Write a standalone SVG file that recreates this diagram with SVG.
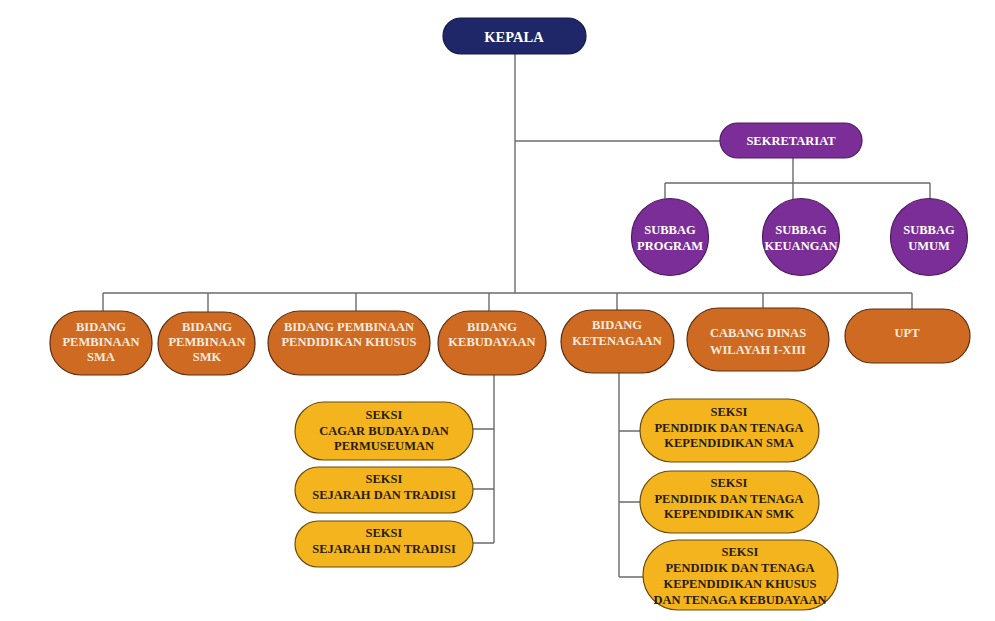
<svg xmlns="http://www.w3.org/2000/svg" width="995" height="621" viewBox="0 0 995 621">
<style>
text{font-family:"Liberation Serif","Times New Roman",serif;font-weight:bold;text-anchor:middle}
.lk{fill:none;stroke:#6b6b6b;stroke-width:1.4}
.nv{fill:#1f2768;stroke:#141a48;stroke-width:1.2}
.pu{fill:#7b2e98;stroke:#4e1c63;stroke-width:1.2}
.or{fill:#cf6a23;stroke:#5a2f12;stroke-width:1.2}
.ye{fill:#f3b41e;stroke:#6a4a10;stroke-width:1.2}
.tw{fill:#ffffff;font-size:12.5px}
.tb{fill:#f6eadf;font-size:12.5px}
.td{fill:#2a1c0c;font-size:12.5px}
</style>
<rect width="995" height="621" fill="#ffffff"/>
<g id="connectors">
<path class="lk" d="M515 54V293"/>
<path class="lk" d="M515 141H720"/>
<path class="lk" d="M793 158V183M665 183H930M665 183V199M793 183V199M930 183V199"/>
<path class="lk" d="M103 293H912M103 293V311M208 293V312M356 293V311M489 293V311M617 293V310M763 293V308M912 293V309"/>
<path class="lk" d="M494 375V543M473 429H494M473 489H494M473 543H494"/>
<path class="lk" d="M619 373V577M619 431H640M619 502H640M619 577H643"/>
</g>
<g id="kepala"><rect class="nv" x="443" y="18" width="143" height="36" rx="18"/><text class="tw" x="514" y="42" style="font-size:14.5px">KEPALA</text></g>
<g id="sekretariat"><rect class="pu" x="720" y="123" width="142" height="35" rx="17.5"/><text class="tw" x="791" y="145">SEKRETARIAT</text></g>
<g id="subbag-program"><circle class="pu" cx="670" cy="237" r="38.5"/><text class="tw" x="670" y="234">SUBBAG</text><text class="tw" x="670" y="250">PROGRAM</text></g>
<g id="subbag-keuangan"><circle class="pu" cx="801" cy="237" r="38.5"/><text class="tw" x="801" y="234">SUBBAG</text><text class="tw" x="801" y="250">KEUANGAN</text></g>
<g id="subbag-umum"><circle class="pu" cx="929" cy="237" r="38.5"/><text class="tw" x="929" y="234">SUBBAG</text><text class="tw" x="929" y="250">UMUM</text></g>
<g id="bidang-sma"><rect class="or" x="50" y="311" width="102" height="64" rx="31"/><text class="tb" x="101" y="331">BIDANG</text><text class="tb" x="101" y="346">PEMBINAAN</text><text class="tb" x="101" y="361">SMA</text></g>
<g id="bidang-smk"><rect class="or" x="158" y="312" width="97" height="63" rx="31"/><text class="tb" x="207" y="331">BIDANG</text><text class="tb" x="207" y="346">PEMBINAAN</text><text class="tb" x="207" y="361">SMK</text></g>
<g id="bidang-khusus"><rect class="or" x="268" y="311" width="162" height="64" rx="32"/><text class="tb" x="349" y="331">BIDANG PEMBINAAN</text><text class="tb" x="349" y="346">PENDIDIKAN KHUSUS</text></g>
<g id="bidang-kebudayaan"><rect class="or" x="438" y="311" width="108" height="64" rx="32"/><text class="tb" x="492" y="331">BIDANG</text><text class="tb" x="492" y="346">KEBUDAYAAN</text></g>
<g id="bidang-ketenagaan"><rect class="or" x="561" y="310" width="113" height="63" rx="31.5"/><text class="tb" x="617" y="329">BIDANG</text><text class="tb" x="617" y="345">KETENAGAAN</text></g>
<g id="cabang-dinas"><rect class="or" x="687" y="308" width="142" height="63" rx="31.5"/><text class="tb" x="758" y="337">CABANG DINAS</text><text class="tb" x="758" y="354">WILAYAH I-XIII</text></g>
<g id="upt"><rect class="or" x="845" y="309" width="125" height="54" rx="27"/><text class="tb" x="907" y="337">UPT</text></g>
<g id="seksi-cagar"><rect class="ye" x="295" y="402" width="178" height="58" rx="29"/><text class="td" x="384" y="419">SEKSI</text><text class="td" x="384" y="435">CAGAR BUDAYA DAN</text><text class="td" x="384" y="450">PERMUSEUMAN</text></g>
<g id="seksi-sejarah-1"><rect class="ye" x="295" y="467" width="178" height="46" rx="23"/><text class="td" x="384" y="483">SEKSI</text><text class="td" x="384" y="499">SEJARAH DAN TRADISI</text></g>
<g id="seksi-sejarah-2"><rect class="ye" x="295" y="521" width="178" height="46" rx="23"/><text class="td" x="384" y="537">SEKSI</text><text class="td" x="384" y="553">SEJARAH DAN TRADISI</text></g>
<g id="seksi-ptk-sma"><rect class="ye" x="640" y="399" width="179" height="63" rx="31.5"/><text class="td" x="729" y="416">SEKSI</text><text class="td" x="729" y="432">PENDIDIK DAN TENAGA</text><text class="td" x="729" y="447">KEPENDIDIKAN SMA</text></g>
<g id="seksi-ptk-smk"><rect class="ye" x="640" y="471" width="179" height="62" rx="31"/><text class="td" x="729" y="487">SEKSI</text><text class="td" x="729" y="503">PENDIDIK DAN TENAGA</text><text class="td" x="729" y="518">KEPENDIDIKAN SMK</text></g>
<g id="seksi-ptk-khusus"><rect class="ye" x="643" y="540" width="195" height="70" rx="35"/><text class="td" x="740" y="556">SEKSI</text><text class="td" x="740" y="572">PENDIDIK DAN TENAGA</text><text class="td" x="740" y="588">KEPENDIDIKAN KHUSUS</text><text class="td" x="740" y="604">DAN TENAGA KEBUDAYAAN</text></g>
</svg>
